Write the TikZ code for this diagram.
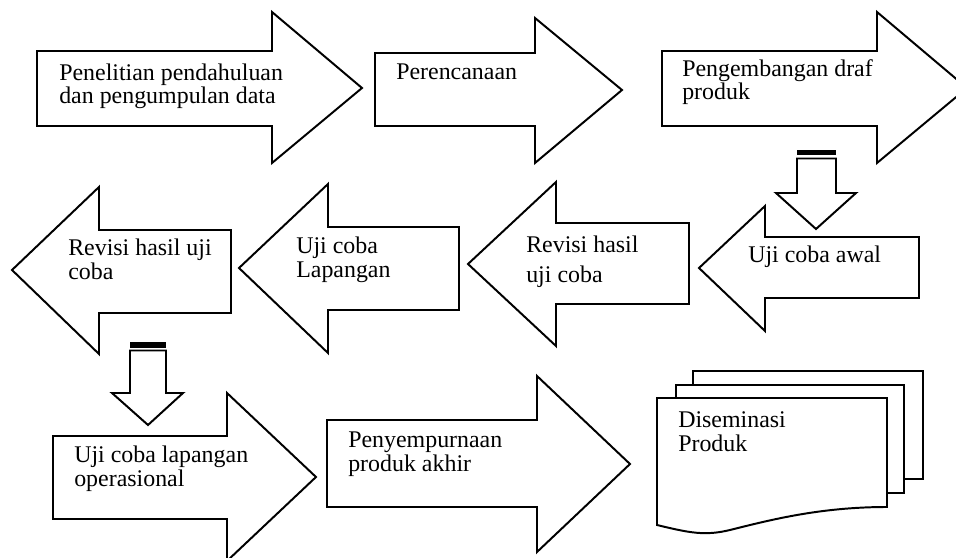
\documentclass[tikz,border=0pt]{standalone}
\usepackage{fontspec}
\setmainfont{Liberation Serif}
\begin{document}
\begin{tikzpicture}[x=0.025cm,y=-0.025cm,
  panah/.style={draw=black,line width=1.4pt,fill=white,line join=miter},
  teks/.style={anchor=base west,align=left,inner sep=0pt,font=\fontsize{17}{17}\selectfont}]
\useasboundingbox (0,0) rectangle (956,558);
\draw[panah] (37,51)--(272,51)--(272,12)--(362,88)--(272,163)--(272,126)--(37,126)--cycle;
\draw[panah] (375,53)--(535,53)--(535,18)--(622,90)--(535,163)--(535,126)--(375,126)--cycle;
\draw[panah] (662,51)--(877,51)--(877,12)--(967,88)--(877,163)--(877,126)--(662,126)--cycle;
\fill (797,150) rectangle (836,155.5);
\draw[panah] (797,158.5)--(836,158.5)--(836,193)--(856,193)--(816,229)--(776,193)--(797,193)--cycle;
\draw[panah] (231,230)--(99,230)--(99,187)--(12,270)--(99,354)--(99,313)--(231,313)--cycle;
\draw[panah] (459,227)--(328,227)--(328,184)--(239,268)--(328,353)--(328,310)--(459,310)--cycle;
\draw[panah] (689,223)--(556,223)--(556,182)--(468,264)--(556,346)--(556,304)--(689,304)--cycle;
\draw[panah] (919,237)--(765,237)--(765,206)--(699,268)--(765,331)--(765,298)--(919,298)--cycle;
\fill (130,342) rectangle (166,347.5);
\draw[panah] (130,350.5)--(166,350.5)--(166,393)--(183,393)--(148,425)--(112,393)--(130,393)--cycle;
\draw[panah] (53,436)--(227,436)--(227,393)--(316,477)--(227,561)--(227,519)--(53,519)--cycle;
\draw[panah] (327,420)--(537,420)--(537,376)--(630,464)--(537,552)--(537,507)--(327,507)--cycle;
\draw[panah] (693,371) rectangle (923,479);
\draw[panah] (676,385) rectangle (904,493);
\draw[panah] (657,398)--(887,398)--(887,507) .. controls (820,507) and (770,520) .. (730,530)
  .. controls (705,536) and (690,533) .. (657,525)--cycle;
\node[teks] (penelitian) at (59,104) {Penelitian pendahuluan\\dan pengumpulan data};
\node[teks] (perencanaan) at (396,80) {Perencanaan};
\node[teks] (draf) at (682,100) {Pengembangan draf\\produk};
\node[teks] (revisi1) at (68,279) {Revisi hasil uji\\coba};
\node[teks] (lapangan) at (296,277) {Uji coba\\Lapangan};
\node[teks] (revisi2) at (526,282) {Revisi hasil\\[4pt]uji coba};
\node[teks] (awal) at (748,262) {Uji coba awal};
\node[teks] (operasional) at (74,486) {Uji coba lapangan\\operasional};
\node[teks] (penyempurnaan) at (348,471) {Penyempurnaan\\produk akhir};
\node[teks] (diseminasi) at (678,451) {Diseminasi\\Produk};
\end{tikzpicture}
\end{document}
